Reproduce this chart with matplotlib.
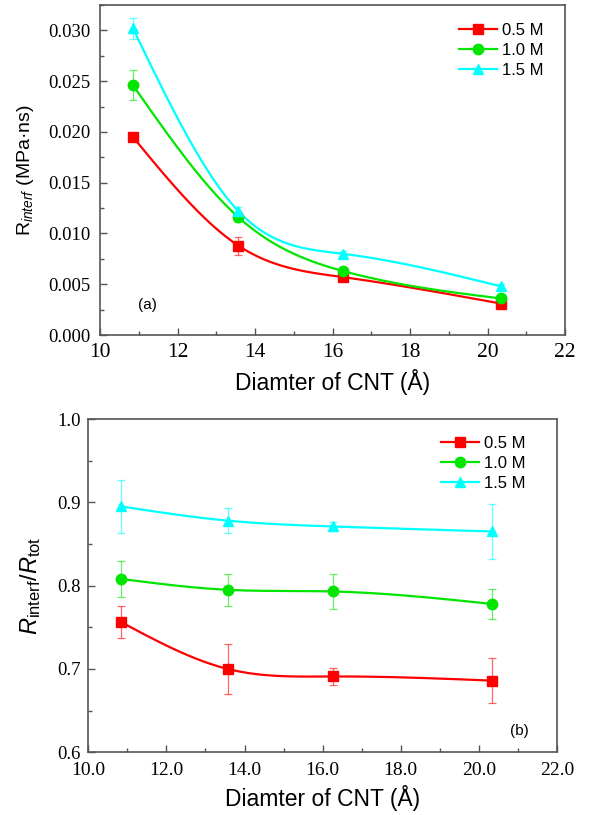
import numpy as np
import matplotlib
matplotlib.use("Agg")
import matplotlib.pyplot as plt
from matplotlib.ticker import MultipleLocator, FormatStrFormatter

plt.rcParams['font.family'] = ['Liberation Serif', 'DejaVu Serif']
plt.rcParams['mathtext.fontset'] = 'custom'
plt.rcParams['mathtext.rm'] = 'Liberation Sans'
plt.rcParams['mathtext.it'] = 'Liberation Sans:italic'
plt.rcParams['mathtext.bf'] = 'Liberation Sans:bold'

# ---- data ----
diam = [10.85, 13.57, 16.27, 20.34]
labels = ["0.5 M", "1.0 M", "1.5 M"]
colors = ["#ff0000", "#00e600", "#00ffff"]
markers = ["s", "o", "^"]

# panel (a): R_interf (MPa·ns)
r_05 = [0.0195, 0.0088, 0.0057, 0.0031]
r_10 = [0.0246, 0.0116, 0.0063, 0.0036]
r_15 = [0.0302, 0.0122, 0.0080, 0.0048]
re_05 = [0.0003, 0.0009, 0.0003, 0.0003]
re_10 = [0.0015, 0.0005, 0.0003, 0.0003]
re_15 = [0.0010, 0.0004, 0.0003, 0.0002]

# panel (b): R_interf / R_tot
f_05 = [0.756, 0.700, 0.691, 0.686]
f_10 = [0.808, 0.795, 0.793, 0.778]
f_15 = [0.895, 0.878, 0.871, 0.865]
fe_05 = [0.019, 0.030, 0.010, 0.027]
fe_10 = [0.022, 0.019, 0.021, 0.018]
fe_15 = [0.032, 0.015, 0.005, 0.033]


def natural_spline(x, y, n=200):
    x = np.asarray(x, float); y = np.asarray(y, float)
    k = len(x)
    h = np.diff(x)
    A = np.zeros((k, k)); b = np.zeros(k)
    A[0, 0] = 1; A[-1, -1] = 1
    for i in range(1, k - 1):
        A[i, i - 1] = h[i - 1]; A[i, i] = 2 * (h[i - 1] + h[i]); A[i, i + 1] = h[i]
        b[i] = 6 * ((y[i + 1] - y[i]) / h[i] - (y[i] - y[i - 1]) / h[i - 1])
    M = np.linalg.solve(A, b)
    xs = np.linspace(x[0], x[-1], n)
    ys = np.empty_like(xs)
    for j, xv in enumerate(xs):
        i = min(np.searchsorted(x, xv, side='right') - 1, k - 2)
        t1 = x[i + 1] - xv; t0 = xv - x[i]
        ys[j] = (M[i] * t1**3 + M[i + 1] * t0**3) / (6 * h[i]) + \
                (y[i] / h[i] - M[i] * h[i] / 6) * t1 + (y[i + 1] / h[i] - M[i + 1] * h[i] / 6) * t0
    return xs, ys


fig = plt.figure(figsize=(5.91, 8.15), dpi=100)
ax1 = fig.add_axes([100 / 591, 1 - 335 / 815, 465 / 591, 330 / 815])
ax2 = fig.add_axes([88.3 / 591, 1 - 752.3 / 815, 468.7 / 591, 333.3 / 815])

spine_col = "#555555"
SANS = "Liberation Sans"


def style(ax, xsize, ysize, xpad, ypad):
    for s in ax.spines.values():
        s.set_color(spine_col)
        s.set_linewidth(1.2)
    ax.tick_params(which='both', direction='in', color=spine_col, top=False, right=False)
    ax.tick_params(which='major', length=5, width=1.0)
    ax.tick_params(which='minor', length=3, width=1.0)
    ax.tick_params(axis='x', labelsize=xsize, pad=xpad)
    ax.tick_params(axis='y', labelsize=ysize, pad=ypad)


def draw(ax, ys, es):
    handles = []
    for y, e, c, m, lab in zip(ys, es, colors, markers, labels):
        ax.errorbar(diam, y, yerr=e, fmt='none', ecolor=c, elinewidth=0.9,
                    capsize=3, capthick=0.9, alpha=0.6, zorder=2)
        xs, yy = natural_spline(diam, y)
        ax.plot(xs, yy, color=c, lw=1.6, zorder=3)
        ax.plot(diam, y, linestyle='none', marker=m, color=c, ms=7.5, zorder=4)
        h, = ax.plot([], [], color=c, lw=1.6, marker=m, ms=7.5, label=lab)
        handles.append(h)
    return handles


# ---- panel (a) ----
h1 = draw(ax1, [r_05, r_10, r_15], [re_05, re_10, re_15])
ax1.set_xlim(10, 22)
ax1.set_ylim(0, 0.0325)
ax1.xaxis.set_major_locator(MultipleLocator(2))
ax1.xaxis.set_minor_locator(MultipleLocator(1))
ax1.yaxis.set_major_locator(MultipleLocator(0.005))
ax1.yaxis.set_minor_locator(MultipleLocator(0.0025))
ax1.yaxis.set_major_formatter(FormatStrFormatter('%.3f'))
style(ax1, 15.5, 13.5, 6, 7)
ax1.set_xlabel("Diamter of CNT (Å)", family=SANS, size=16.5, labelpad=5)
ax1.set_ylabel(r"R$_{\it interf}$ (MPa·ns)", family=SANS, size=14, labelpad=9)
ax1.text(0.101, 0.09, "(a)", transform=ax1.transAxes, family=SANS, size=11,
         ha='center', va='center')
ax1.legend(handles=h1, loc='upper right', bbox_to_anchor=(0.953, 0.945), frameon=False,
           prop=dict(family=SANS, size=12), borderpad=0, borderaxespad=0,
           handlelength=2.3, handletextpad=0.25, labelspacing=0.3)

# ---- panel (b) ----
h2 = draw(ax2, [f_05, f_10, f_15], [fe_05, fe_10, fe_15])
ax2.set_xlim(10, 22)
ax2.set_ylim(0.6, 1.0)
ax2.xaxis.set_major_locator(MultipleLocator(2))
ax2.xaxis.set_minor_locator(MultipleLocator(1))
ax2.yaxis.set_major_locator(MultipleLocator(0.1))
ax2.yaxis.set_minor_locator(MultipleLocator(0.05))
ax2.xaxis.set_major_formatter(FormatStrFormatter('%.1f'))
ax2.yaxis.set_major_formatter(FormatStrFormatter('%.1f'))
style(ax2, 14, 13.5, 7, 5.5)
ax2.set_xlabel("Diamter of CNT (Å)", family=SANS, size=16.5, labelpad=4)
ax2.set_ylabel(r"$R_{\rm interf}/R_{\rm tot}$", size=17, labelpad=10)
ax2.text(0.919, 0.065, "(b)", transform=ax2.transAxes, family=SANS, size=11,
         ha='center', va='center')
ax2.legend(handles=h2, loc='upper right', bbox_to_anchor=(0.932, 0.95), frameon=False,
           prop=dict(family=SANS, size=12), borderpad=0, borderaxespad=0,
           handlelength=2.3, handletextpad=0.25, labelspacing=0.3)

fig.savefig("out.png", dpi=100)
